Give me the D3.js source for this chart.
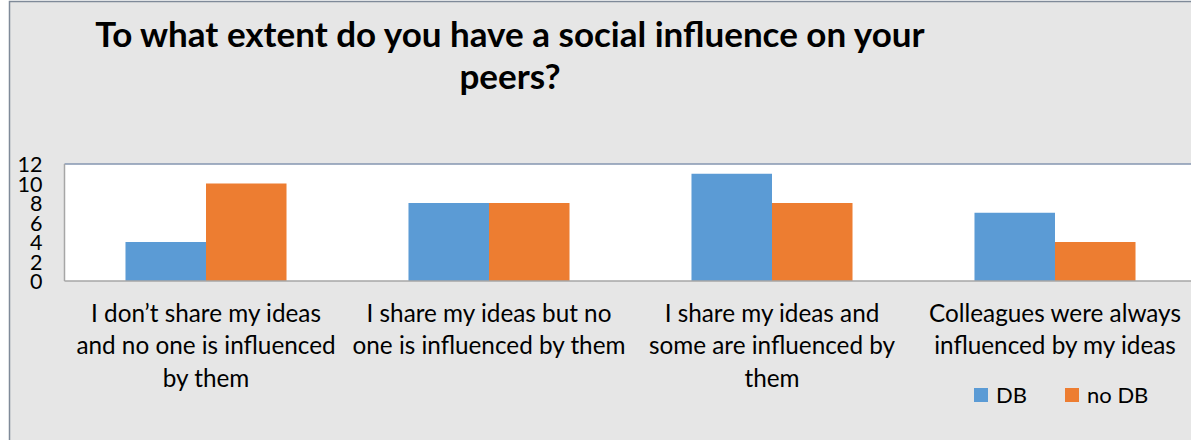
<!DOCTYPE html>
<html>
<head>
<meta charset="utf-8">
<script src="https://cdn.jsdelivr.net/npm/d3@7"></script>
<style>
  body { margin: 0; background: #fff; }
  text { font-family: Lato, "Open Sans", sans-serif; fill: #000; }
</style>
</head>
<body>
<script>
// ==================== Data ============================
const categories = [
  'I don\u2019t share my ideas and no one is influenced by them',
  'I share my ideas but no one is influenced by them',
  'I share my ideas and some are influenced by them',
  'Colleagues were always influenced by my ideas'
];
// how each category label wraps in the picture
const categoryLines = [
  ['I don\u2019t share my ideas', 'and no one is influenced', 'by them'],
  ['I share my ideas but no', 'one is influenced by them'],
  ['I share my ideas and', 'some are influenced by', 'them'],
  ['Colleagues were always', 'influenced by my ideas']
];
const seriesNames = ['DB', 'no DB'];
const dbValues   = [4, 8, 11, 7];
const noDbValues = [10, 8, 8, 4];
const yTicks = [0, 2, 4, 6, 8, 10, 12];
const titleLines = ['To what extent do you have a social influence on your', 'peers?'];

const colors = {'DB': '#5b9bd5', 'no DB': '#ed7d31'};

// ==================== Set up ============================
const W = 1191, H = 440;
const plot = {left: 64.5, right: 1196.5, top: 164, bottom: 281};

const svg = d3.select('body')
  .append('svg')
    .attr('width', W)
    .attr('height', H);

// chart background + outer border (runs off the right / bottom edge)
svg.append('rect')
    .attr('x', 9.5).attr('y', 1.5)
    .attr('width', W).attr('height', H)
    .attr('fill', '#e6e6e6')
    .attr('stroke', '#7f8a99')
    .attr('stroke-width', 1.5);

// scales
const x0 = d3.scaleBand()
    .domain(categories)
    .range([plot.left, plot.right])
    .paddingInner(0.431)
    .paddingOuter(0.2155);

const x1 = d3.scaleBand()
    .domain(seriesNames)
    .range([0, x0.bandwidth()]);

const y = d3.scaleLinear()
    .domain([0, 12])
    .range([plot.bottom, plot.top]);

// plot area
svg.append('rect')
    .attr('x', plot.left).attr('y', plot.top)
    .attr('width', plot.right - plot.left)
    .attr('height', plot.bottom - plot.top)
    .attr('fill', '#fff');

svg.append('line')
    .attr('x1', plot.left).attr('x2', plot.right)
    .attr('y1', plot.top).attr('y2', plot.top)
    .attr('stroke', '#8496b0').attr('stroke-width', 1.5);
svg.append('line')
    .attr('x1', plot.left).attr('x2', plot.left)
    .attr('y1', plot.top).attr('y2', plot.bottom)
    .attr('stroke', '#a6a6a6').attr('stroke-width', 1.5);

// ==================== Bars ============================
const rows = categories.map((c, i) => ({cat: c, values: [
  {key: 'DB', value: dbValues[i]},
  {key: 'no DB', value: noDbValues[i]}
]}));

const groups = svg.selectAll('g.group')
  .data(rows)
  .enter().append('g')
    .attr('class', 'group')
    .attr('transform', (d) => `translate(${x0(d.cat)}, 0)`);

groups.selectAll('rect')
  .data((d) => d.values)
  .enter().append('rect')
    .attr('x', (d) => x1(d.key))
    .attr('y', (d) => y(d.value))
    .attr('width', x1.bandwidth())
    .attr('height', (d) => y(0) - y(d.value))
    .attr('fill', (d) => colors[d.key]);

// x baseline
svg.append('line')
    .attr('x1', plot.left).attr('x2', plot.right)
    .attr('y1', plot.bottom).attr('y2', plot.bottom)
    .attr('stroke', '#a6a6a6').attr('stroke-width', 1.5);

// ==================== Axes ============================
// labels sit close together, as in the picture
const yAxis = svg.append('g')
    .attr('transform', `translate(${plot.left - 22}, 0)`)
    .call(d3.axisLeft(y).tickValues(yTicks).tickSize(0).tickPadding(0));
yAxis.select('.domain').remove();
yAxis.selectAll('text')
    .style('font-family', 'Lato, sans-serif')
    .style('font-size', '21.5px')
    .attr('dy', '0.36em')
    .attr('fill', '#000');

// category labels
categories.forEach((c, i) => {
  const cx = x0(c) + x0.bandwidth() / 2;
  const t = svg.append('text')
      .attr('text-anchor', 'middle')
      .style('font-size', '24.3px');
  categoryLines[i].forEach((line, j) => {
    t.append('tspan')
        .attr('x', cx)
        .attr('y', 322 + j * 32.3)
        .text(line);
  });
});

// ==================== Title ============================
const title = svg.append('text')
    .attr('text-anchor', 'middle')
    .style('font-size', '35px')
    .style('font-weight', 'bold');
titleLines.forEach((line, j) => {
  title.append('tspan')
      .attr('x', 510)
      .attr('y', 47 + j * 42)
      .text(line);
});

// ==================== Legend ============================
const legendX = [974, 1065];
seriesNames.forEach((s, i) => {
  svg.append('rect')
      .attr('x', legendX[i]).attr('y', 388)
      .attr('width', 14).attr('height', 14)
      .attr('fill', colors[s]);
  svg.append('text')
      .attr('x', legendX[i] + 22)
      .attr('y', 403)
      .style('font-size', '22px')
      .text(s);
});
</script>
</body>
</html>
